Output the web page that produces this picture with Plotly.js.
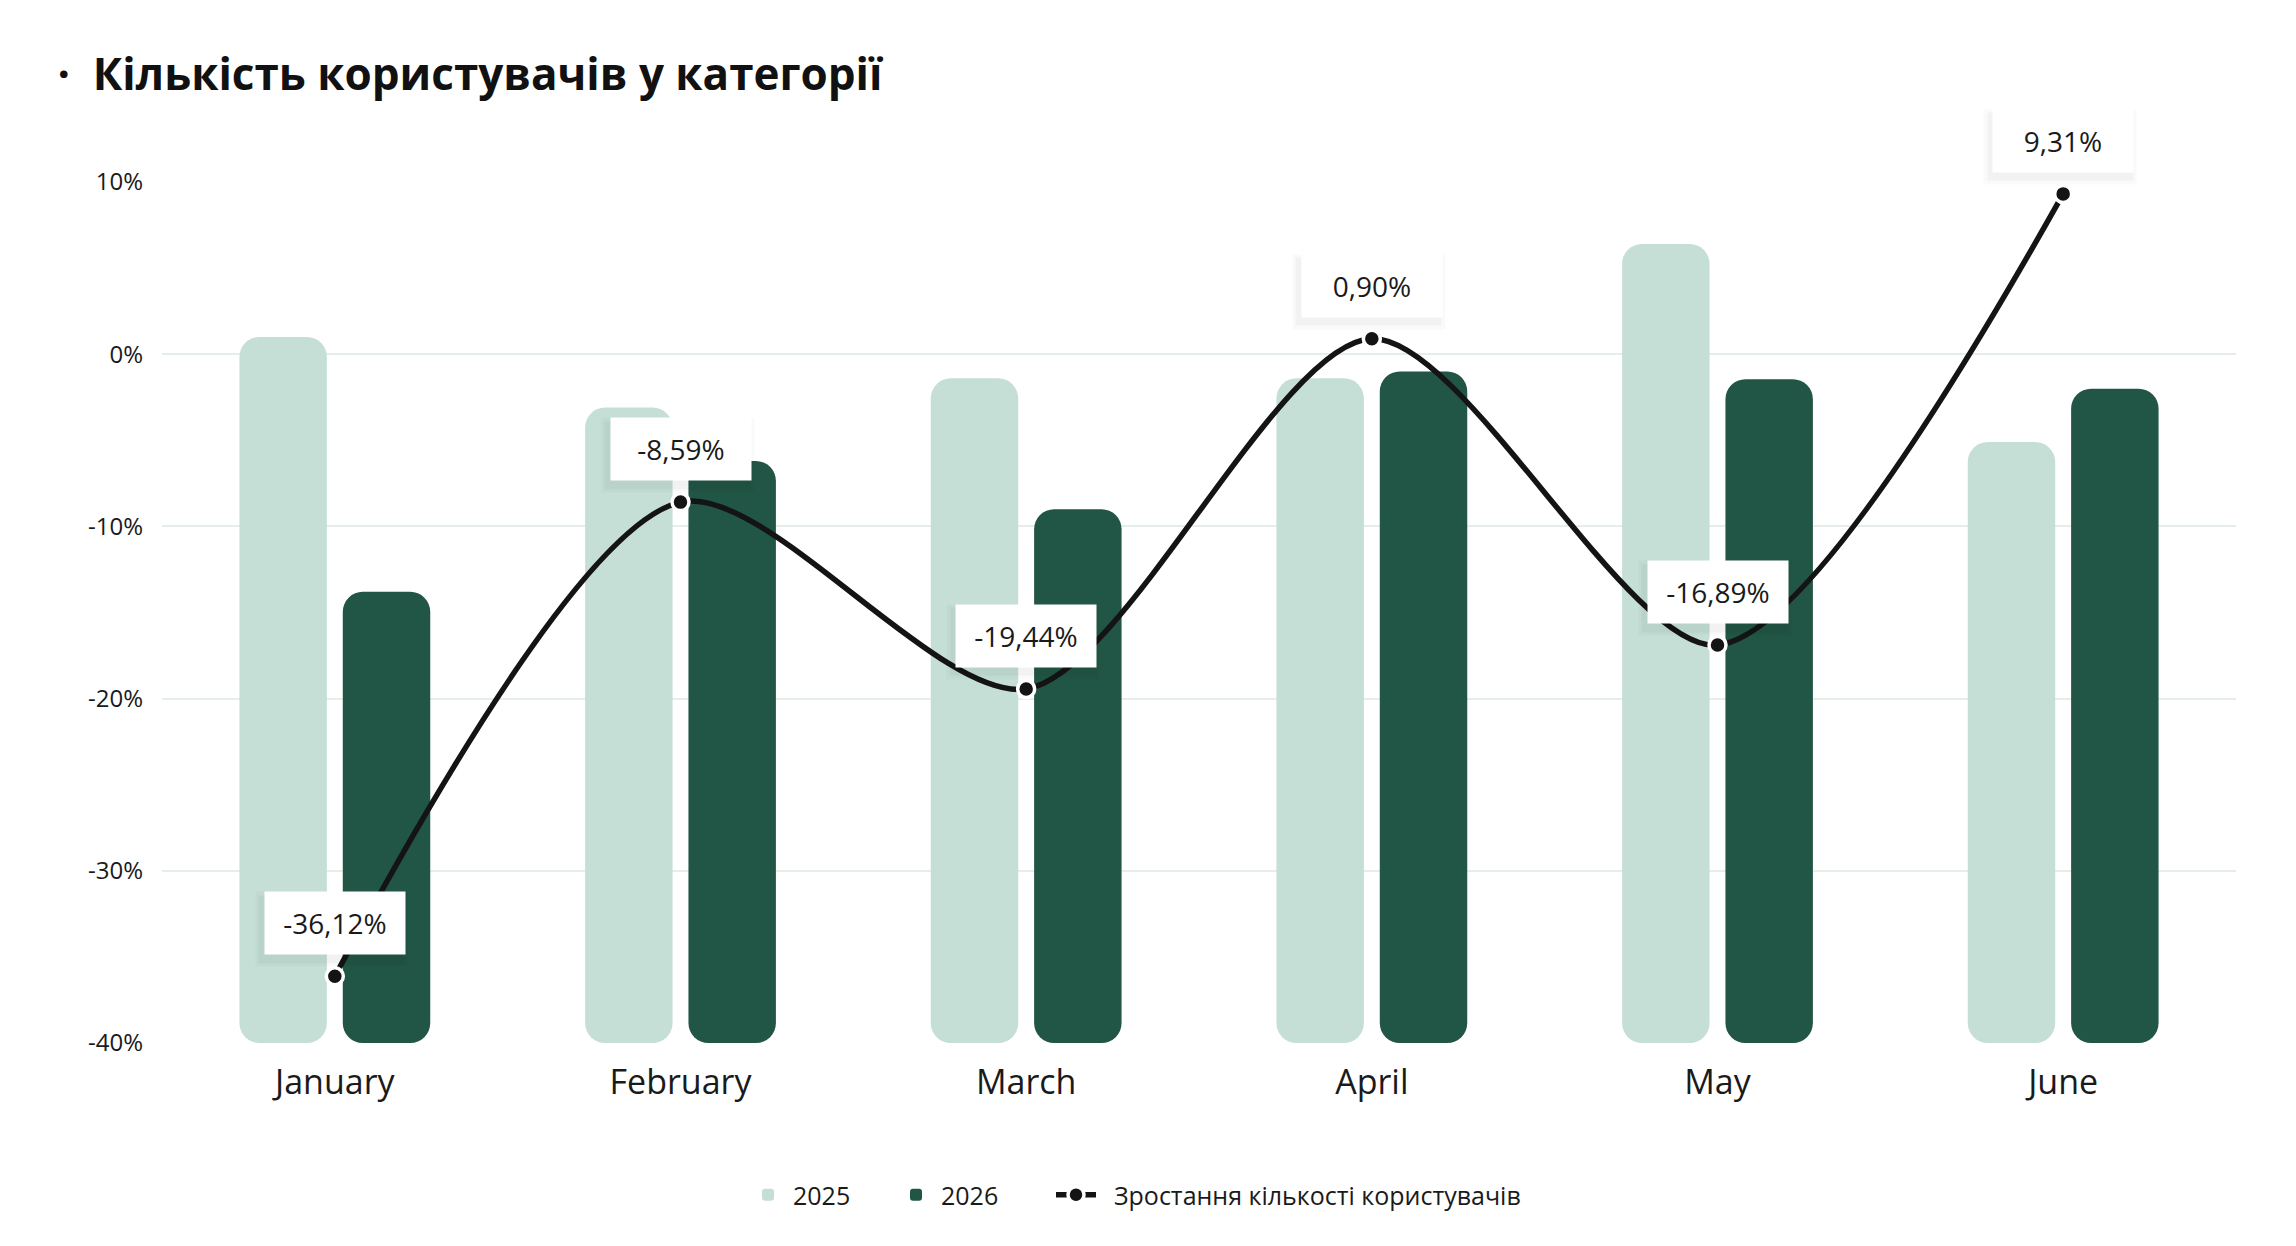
<!DOCTYPE html>
<html>
<head>
<meta charset="utf-8">
<script src="https://cdn.plot.ly/plotly-3.0.1.min.js"></script>
<style>
  html, body { margin: 0; padding: 0; background: #ffffff; }
  #chart { width: 2296px; height: 1246px; }
</style>
</head>
<body>
<div id="chart"></div>
<script>
const months = ["January", "February", "March", "April", "May", "June"];
const users2025 = [1.0, -3.1, -1.4, -1.4, 6.4, -5.1];
const users2026 = [-13.8, -6.2, -9.0, -1.0, -1.45, -2.0];
const growth = [-36.12, -8.59, -19.44, 0.90, -16.89, 9.31];
const yTicks = [10, 0, -10, -20, -30, -40];

const axisFloor = -40;
const lightGreen = "#c5dfd6";
const darkGreen = "#215545";
const fontFamily = "'Open Sans', sans-serif";

// bars stand on the -40% floor
function userBars(tops, color, offset, name) {
    return {
        type: "bar",
        x: months,
        base: tops.map(() => axisFloor),
        y: tops.map(t => t - axisFloor),
        offset: offset,
        width: 0.253,
        name: name,
        legend: "legend",
        marker: { color: color, cornerradius: 20, line: { width: 0 } },
        hoverinfo: "skip"
    };
}

const traceGrowth = {
    type: "scatter",
    mode: "lines+markers",
    x: months,
    y: growth,
    name: "\u00a0\u00a0Зростання кількості користувачів",
    legend: "legend2",
    line: { color: "#141414", width: 5.5, shape: "spline", smoothing: 0.8 },
    marker: { color: "#141414", size: 17, line: { color: "#ffffff", width: 3.5 } },
    cliponaxis: false,
    hoverinfo: "skip"
};

const data = [
    userBars(users2025, lightGreen, -0.276, "2025"),
    userBars(users2026, darkGreen, 0.023, "2026"),
    traceGrowth
];

// soft shadow layers under each value box, then the box itself
const labelShift = 53;
const shadows = [];
[[12, 0.018], [5, 0.03]].forEach(([grow, alpha]) => {
    growth.forEach((g, i) => {
        shadows.push({
            x: months[i], y: g, yshift: labelShift - 6, xshift: -3,
            text: " ", showarrow: false,
            bgcolor: `rgba(0,0,0,${alpha})`,
            borderpad: 0,
            width: 140 + grow, height: 62 + grow
        });
    });
});

const boxes = growth.map((g, i) => ({
    x: months[i],
    y: g,
    yshift: labelShift,
    text: g.toFixed(2).replace(".", ",") + "%",
    showarrow: false,
    font: { family: fontFamily, size: 28, color: "#1a1a1a" },
    bgcolor: "#ffffff",
    borderpad: 0,
    width: 140,
    height: 62
}));

const legendBase = {
    orientation: "h",
    xref: "container",
    yref: "container",
    xanchor: "left",
    y: 1 - 1195 / 1246,
    yanchor: "middle",
    font: { family: fontFamily, size: 25, color: "#1a1a1a" },
    itemwidth: 40,
    traceorder: "normal"
};

const layout = {
    width: 2296,
    height: 1246,
    font: { family: fontFamily, color: "#1a1a1a" },
    title: {
        text: "·  Кількість користувачів у категорії",
        font: { family: fontFamily, size: 44, weight: 700, color: "#111111" },
        xref: "container",
        yref: "container",
        x: 0.025,
        xanchor: "left",
        y: 1 - 75 / 1246,
        yanchor: "middle"
    },
    barmode: "overlay",
    margin: { l: 162, r: 60, t: 182, b: 203 },
    xaxis: {
        type: "category",
        categoryorder: "array",
        categoryarray: months,
        showgrid: false,
        zeroline: false,
        showline: false,
        ticks: "",
        ticklabelstandoff: 16,
        tickfont: { family: fontFamily, size: 34, color: "#1a1a1a" }
    },
    yaxis: {
        range: [axisFloor, 10],
        tickvals: yTicks,
        ticktext: yTicks.map(t => t + "%"),
        showgrid: true,
        gridcolor: "#e5efe7",
        gridwidth: 2,
        zeroline: false,
        showline: false,
        ticks: "",
        ticklabelstandoff: 18,
        tickfont: { family: fontFamily, size: 24, color: "#1a1a1a" }
    },
    legend: Object.assign({}, legendBase, {
        x: 743 / 2296,
        entrywidth: 93,
        entrywidthmode: "pixels"
    }),
    legend2: Object.assign({}, legendBase, {
        x: 1051 / 2296
    }),
    annotations: shadows.concat(boxes),
    showlegend: true,
    paper_bgcolor: "#ffffff",
    plot_bgcolor: "#ffffff",
    hovermode: false
};

Plotly.newPlot("chart", data, layout, { displayModeBar: false, staticPlot: true });
</script>
</body>
</html>
